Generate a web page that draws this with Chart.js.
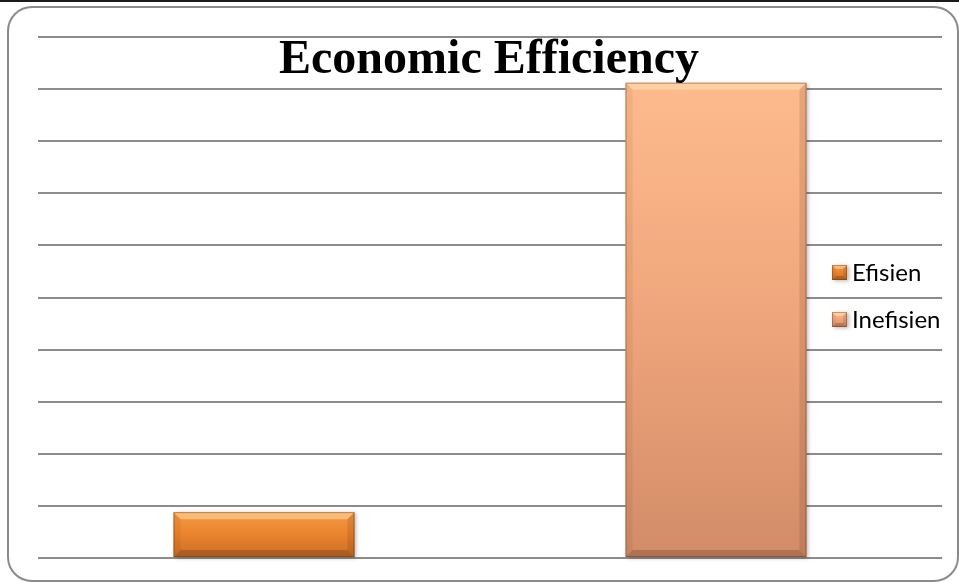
<!DOCTYPE html>
<html>
<head>
<meta charset="utf-8">
<title>Economic Efficiency</title>
<script src="https://cdn.jsdelivr.net/npm/chart.js@4.4.1/dist/chart.umd.min.js"></script>
<style>
    html, body { margin: 0; padding: 0; background: #fff; overflow: hidden; }
    canvas { display: block; }
</style>
</head>
<body>
<canvas id="grafikEfisiensi" width="959" height="584"></canvas>
<script>
// data
const kategori = ["Efisien", "Inefisien"];
const nilaiEfisien = [8.8, null];
const nilaiInefisien = [null, 91.2];
const sumbuY = { min: 0, max: 100, langkah: 10 };
const judul = "Economic Efficiency";

// warna tiap seri: atas, tengah, bawah
const warna = {
    Efisien: ["#F59A42", "#EA832D", "#C96F27"],
    Inefisien: ["#FDBB8D", "#EFA57B", "#D18C68"],
};

function isiGradien(ctx, atas, bawah, w) {
    const g = ctx.createLinearGradient(0, atas, 0, bawah);
    g.addColorStop(0, w[0]);
    g.addColorStop(0.5, w[1]);
    g.addColorStop(1, w[2]);
    return g;
}

// kotak dengan efek bevel
function gambarBevel(ctx, l, t, r, b, w, s) {
    ctx.save();
    ctx.shadowColor = "rgba(0,0,0,0.28)";
    ctx.shadowBlur = 4;
    ctx.shadowOffsetX = 2;
    ctx.shadowOffsetY = 1;
    ctx.fillStyle = isiGradien(ctx, t, b, w);
    ctx.fillRect(l, t, r - l, b - t);
    ctx.restore();

    ctx.save();
    // sisi atas terang
    ctx.fillStyle = "rgba(255,235,190,0.45)";
    ctx.beginPath();
    ctx.moveTo(l, t); ctx.lineTo(r, t); ctx.lineTo(r - s, t + s); ctx.lineTo(l + s, t + s);
    ctx.closePath(); ctx.fill();
    // sisi bawah gelap
    ctx.fillStyle = "rgba(60,20,0,0.22)";
    ctx.beginPath();
    ctx.moveTo(l, b); ctx.lineTo(r, b); ctx.lineTo(r - s, b - s); ctx.lineTo(l + s, b - s);
    ctx.closePath(); ctx.fill();
    // sisi kiri dan kanan
    ctx.fillStyle = "rgba(60,20,0,0.06)";
    ctx.beginPath();
    ctx.moveTo(l, t); ctx.lineTo(l + s, t + s); ctx.lineTo(l + s, b - s); ctx.lineTo(l, b);
    ctx.closePath(); ctx.fill();
    ctx.fillStyle = "rgba(60,20,0,0.12)";
    ctx.beginPath();
    ctx.moveTo(r, t); ctx.lineTo(r - s, t + s); ctx.lineTo(r - s, b - s); ctx.lineTo(r, b);
    ctx.closePath(); ctx.fill();
    // garis tepi
    ctx.strokeStyle = "rgba(90,40,10,0.35)";
    ctx.lineWidth = 1;
    ctx.strokeRect(l + 0.5, t + 0.5, r - l - 1, b - t - 1);
    ctx.restore();
}

const pluginHiasan = {
    id: "hiasan",
    beforeDraw(chart) {
        const ctx = chart.ctx;
        ctx.save();
        // garis gelap di tepi atas
        ctx.fillStyle = "#1b1b1b";
        ctx.fillRect(0, 0, chart.width, 2);
        // bingkai membulat
        ctx.strokeStyle = "#8a8a8a";
        ctx.lineWidth = 2;
        ctx.beginPath();
        ctx.roundRect(8, 7, 950, 574, 24);
        ctx.stroke();
        ctx.restore();
    },
    afterDatasetsDraw(chart) {
        const ctx = chart.ctx;
        chart.data.datasets.forEach((ds, i) => {
            const meta = chart.getDatasetMeta(i);
            meta.data.forEach((bar, j) => {
                if (ds.data[j] == null) return;
                const p = bar.getProps(["x", "y", "base", "width"], true);
                gambarBevel(ctx, p.x - p.width / 2, p.y, p.x + p.width / 2, p.base, warna[ds.label], 7);
            });
        });
    },
    afterDraw(chart) {
        const ctx = chart.ctx;
        ctx.save();
        // judul
        ctx.fillStyle = "#000";
        ctx.font = "bold 48px 'Liberation Serif', 'Times New Roman', serif";
        ctx.textAlign = "center";
        ctx.textBaseline = "alphabetic";
        ctx.fillText(judul, 489, 73);

        // legenda
        ctx.font = "24px Lato, 'Noto Sans', sans-serif";
        ctx.textAlign = "left";
        ctx.textBaseline = "middle";
        chart.data.datasets.forEach((ds, i) => {
            const y = 273 + i * 47;
            gambarBevel(ctx, 832, y - 8, 847, y + 7, warna[ds.label], 4);
            ctx.fillStyle = "#000";
            ctx.fillText(ds.label, 852, y);
        });
        ctx.restore();
    },
};

new Chart(document.getElementById("grafikEfisiensi").getContext("2d"), {
    type: "bar",
    data: {
        labels: kategori,
        datasets: [
            {
                label: "Efisien",
                data: nilaiEfisien,
                backgroundColor: warna.Efisien[1],
                skipNull: true,
            },
            {
                label: "Inefisien",
                data: nilaiInefisien,
                backgroundColor: warna.Inefisien[1],
                skipNull: true,
            },
        ],
    },
    options: {
        responsive: false,
        animation: false,
        layout: { padding: { left: 38, right: 17, top: 37, bottom: 26 } },
        categoryPercentage: 0.4,
        barPercentage: 1,
        plugins: {
            legend: { display: false },
            title: { display: false },
            tooltip: { enabled: false },
        },
        scales: {
            x: { display: false },
            y: {
                min: sumbuY.min,
                max: sumbuY.max,
                ticks: { display: false, stepSize: sumbuY.langkah },
                border: { display: false },
                grid: { color: "#8c8c8c", lineWidth: 2, drawTicks: false },
            },
        },
    },
    plugins: [pluginHiasan],
});
</script>
</body>
</html>
